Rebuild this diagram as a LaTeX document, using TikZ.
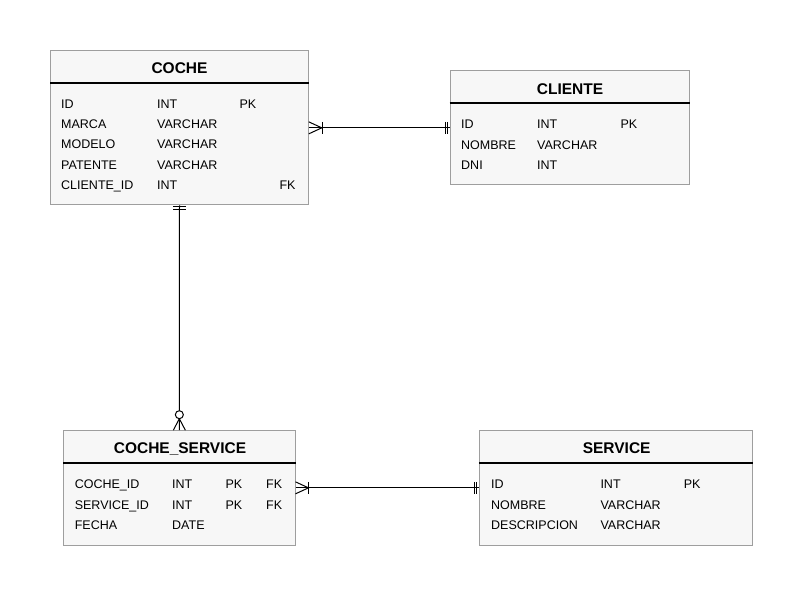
\documentclass[tikz,border=0pt]{standalone}
\usepackage{fontspec}
\setmainfont{Liberation Sans}
\usetikzlibrary{positioning}
\definecolor{boxfill}{HTML}{F7F7F7}
\definecolor{boxline}{HTML}{9E9E9E}
\tikzstyle{tbl}=[draw=boxline, fill=boxfill, line width=1pt, inner sep=0pt]
\tikzstyle{fld}=[anchor=base west, inner sep=0pt, font=\fontsize{12.5}{14}\selectfont]
\tikzstyle{ttl}=[anchor=base, inner sep=0pt, font=\fontsize{15.5}{18}\selectfont\bfseries]

\begin{document}
\begin{tikzpicture}[x=1pt, y=-1pt, line width=1pt,
	hdr/.style = {line width=2pt, black},
	rel/.style = {black, line width=1pt}]
	\useasboundingbox (0,0) rectangle (804,596);

	% tables
	\node[tbl, minimum width=257.6, minimum height=154.3] (coche) at (179.5,127.85) {};
	\node[tbl, minimum width=239.3, minimum height=114.3] (cliente) at (569.65,127.85) {};
	\node[tbl, minimum width=231.3, minimum height=114.3] (cochesrv) at (179.35,487.85) {};
	\node[tbl, minimum width=273.4, minimum height=114.3] (service) at (616,487.85) {};

	% header lines
	\draw[hdr] (coche.west |- 0,83.3) -- (coche.east |- 0,83.3);
	\draw[hdr] (cliente.west |- 0,103.3) -- (cliente.east |- 0,103.3);
	\draw[hdr] (cochesrv.west |- 0,463.3) -- (cochesrv.east |- 0,463.3);
	\draw[hdr] (service.west |- 0,463.3) -- (service.east |- 0,463.3);

	% COCHE
	\node[ttl] (cocheT) at (179.5,73.3) {COCHE};
	\node[fld] (c1) at (60.7,108.5) {ID};
	\node[fld] (c2) at (60.7,128.7) {MARCA};
	\node[fld] (c3) at (60.7,149) {MODELO};
	\node[fld] (c4) at (60.7,169.3) {PATENTE};
	\node[fld] (c5) at (60.7,189.5) {CLIENTE\_ID};
	\node[fld] at (156.7,108.5) {INT};
	\node[fld] at (156.7,128.7) {VARCHAR};
	\node[fld] at (156.7,149) {VARCHAR};
	\node[fld] at (156.7,169.3) {VARCHAR};
	\node[fld] at (156.7,189.5) {INT};
	\node[fld] at (239,108.5) {PK};
	\node[fld] at (279,189.5) {FK};

	% CLIENTE
	\node[ttl] (clienteT) at (570,94.7) {CLIENTE};
	\node[fld] at (460.7,128.3) {ID};
	\node[fld] at (460.7,149.3) {NOMBRE};
	\node[fld] at (460.7,169.3) {DNI};
	\node[fld] at (536.7,128.3) {INT};
	\node[fld] at (536.7,149.3) {VARCHAR};
	\node[fld] at (536.7,169.3) {INT};
	\node[fld] at (620,128.3) {PK};

	% COCHE_SERVICE
	\node[ttl] (cochesrvT) at (180,453.3) {COCHE\_SERVICE};
	\node[fld] at (74.3,488.3) {COCHE\_ID};
	\node[fld] at (74.3,509) {SERVICE\_ID};
	\node[fld] at (74.3,529) {FECHA};
	\node[fld] at (171.7,488.3) {INT};
	\node[fld] at (171.7,509) {INT};
	\node[fld] at (171.7,529) {DATE};
	\node[fld] at (225,488.3) {PK};
	\node[fld] at (225,509) {PK};
	\node[fld] at (265.7,488.3) {FK};
	\node[fld] at (265.7,509) {FK};

	% SERVICE
	\node[ttl] (serviceT) at (616.7,453.3) {SERVICE};
	\node[fld] at (490.7,488.3) {ID};
	\node[fld] at (490.7,509) {NOMBRE};
	\node[fld] at (490.7,529) {DESCRIPCION};
	\node[fld] at (600,488.3) {INT};
	\node[fld] at (600,509) {VARCHAR};
	\node[fld] at (600,529) {VARCHAR};
	\node[fld] at (683.3,488.3) {PK};

	% COCHE -- CLIENTE
	\draw[rel] (coche.east) -- (cliente.west);
	\draw[rel] ([yshift=6]coche.east) -- ([xshift=13]coche.east) -- ([yshift=-6]coche.east);
	\draw[rel] ([xshift=13.5,yshift=6]coche.east) -- ([xshift=13.5,yshift=-6]coche.east);
	\draw[rel] ([xshift=-4,yshift=6]cliente.west) -- ([xshift=-4,yshift=-6]cliente.west);
	\draw[rel] ([xshift=-2,yshift=6]cliente.west) -- ([xshift=-2,yshift=-6]cliente.west);

	% COCHE -- COCHE_SERVICE
	\draw[rel] (coche.south) -- (cochesrv.north);
	\draw[rel] ([xshift=-6.5,yshift=-1.5]coche.south) -- ([xshift=6.5,yshift=-1.5]coche.south);
	\draw[rel] ([xshift=-6.5,yshift=-4]coche.south) -- ([xshift=6.5,yshift=-4]coche.south);
	\draw[rel] ([xshift=-6]cochesrv.north) -- ([yshift=11.5]cochesrv.north) -- ([xshift=6]cochesrv.north);
	\draw[rel, fill=white] ([yshift=15.5]cochesrv.north) circle (4);

	% COCHE_SERVICE -- SERVICE
	\draw[rel] (cochesrv.east) -- (service.west);
	\draw[rel] ([yshift=6]cochesrv.east) -- ([xshift=13]cochesrv.east) -- ([yshift=-6]cochesrv.east);
	\draw[rel] ([xshift=13,yshift=6]cochesrv.east) -- ([xshift=13,yshift=-6]cochesrv.east);
	\draw[rel] ([xshift=-4.5,yshift=6]service.west) -- ([xshift=-4.5,yshift=-6]service.west);
	\draw[rel] ([xshift=-2,yshift=6]service.west) -- ([xshift=-2,yshift=-6]service.west);

\end{tikzpicture}
\end{document}
